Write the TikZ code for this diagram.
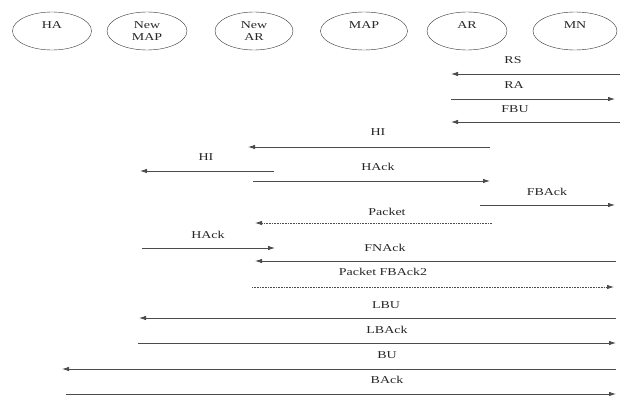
\documentclass[tikz,border=0pt]{standalone}
\usepackage{fontspec}
\setmainfont{Liberation Serif}[FakeStretch=1.33]
\usetikzlibrary{arrows.meta,shapes.geometric}
\begin{document}
\begin{tikzpicture}[x=1pt,y=-1pt,
  ent/.style={draw=black!80,ellipse,minimum height=38pt,inner sep=0pt,font=\fontsize{10.5}{12}\selectfont,align=center,text=black!85},
  msg/.style={draw=black!70,line width=0.8pt,-{Latex[length=7pt,width=4.5pt]}},
  dmsg/.style={msg,dash pattern=on 0.8pt off 0.8pt},
  lbl/.style={font=\fontsize{10.5}{12}\selectfont,text=black!85,inner sep=0pt}]
\useasboundingbox (0,0) rectangle (627,396);
% entities
\node[ent,minimum width=79pt] (ha) at (52,31) {HA\\\mbox{}};
\node[ent,minimum width=80pt] (nmap) at (147,31) {New\\MAP};
\node[ent,minimum width=78pt] (nar) at (254,31) {New\\AR};
\node[ent,minimum width=87pt] (map) at (364,31) {MAP\\\mbox{}};
\node[ent,minimum width=80pt] (ar) at (467,31) {AR\\\mbox{}};
\node[ent,minimum width=84pt] (mn) at (575,31) {MN\\\mbox{}};
% endpoints
\coordinate (rs1) at (620,74);  \coordinate (rs2) at (451,74);
\coordinate (ra1) at (451,99);  \coordinate (ra2) at (615,99);
\coordinate (fbu1) at (620,122); \coordinate (fbu2) at (451,122);
\coordinate (hi1) at (490,147); \coordinate (hi2) at (248,147);
\coordinate (hib1) at (274,171); \coordinate (hib2) at (140,171);
\coordinate (hack1) at (253,181); \coordinate (hack2) at (490,181);
\coordinate (fback1) at (480,205); \coordinate (fback2) at (615,205);
\coordinate (pk1) at (492,223); \coordinate (pk2) at (255,223);
\coordinate (hackb1) at (142,248); \coordinate (hackb2) at (275,248);
\coordinate (fn1) at (616,261); \coordinate (fn2) at (255,261);
\coordinate (pf1) at (252,287); \coordinate (pf2) at (614,287);
\coordinate (lbu1) at (616,318); \coordinate (lbu2) at (139,318);
\coordinate (lba1) at (138,343); \coordinate (lba2) at (616,343);
\coordinate (bu1) at (616,369); \coordinate (bu2) at (62,369);
\coordinate (ba1) at (66,394); \coordinate (ba2) at (616,394);
% messages
\draw[msg] (rs1) -- (rs2);
\draw[msg] (ra1) -- (ra2);
\draw[msg] (fbu1) -- (fbu2);
\draw[msg] (hi1) -- (hi2);
\draw[msg] (hib1) -- (hib2);
\draw[msg] (hack1) -- (hack2);
\draw[msg] (fback1) -- (fback2);
\draw[dmsg] (pk1) -- (pk2);
\draw[msg] (hackb1) -- (hackb2);
\draw[msg] (fn1) -- (fn2);
\draw[dmsg] (pf1) -- (pf2);
\draw[msg] (lbu1) -- (lbu2);
\draw[msg] (lba1) -- (lba2);
\draw[msg] (bu1) -- (bu2);
\draw[msg] (ba1) -- (ba2);
% labels
\node[lbl] (lrs) at (513,60) {RS};
\node[lbl] (lra) at (514,85) {RA};
\node[lbl] (lfbu) at (515,109) {FBU};
\node[lbl] (lhi) at (378,132) {HI};
\node[lbl] (lhib) at (206,157) {HI};
\node[lbl] (lhack) at (378,167) {HAck};
\node[lbl] (lfback) at (547,192) {FBAck};
\node[lbl] (lpk) at (387,212) {Packet};
\node[lbl] (lhackb) at (208,235) {HAck};
\node[lbl] (lfn) at (385,248) {FNAck};
\node[lbl] (lpf) at (383,272) {Packet FBAck2};
\node[lbl] (llbu) at (386,305) {LBU};
\node[lbl] (llba) at (387,330) {LBAck};
\node[lbl] (lbu) at (387,355) {BU};
\node[lbl] (lba) at (387,380) {BAck};
\end{tikzpicture}
\end{document}
